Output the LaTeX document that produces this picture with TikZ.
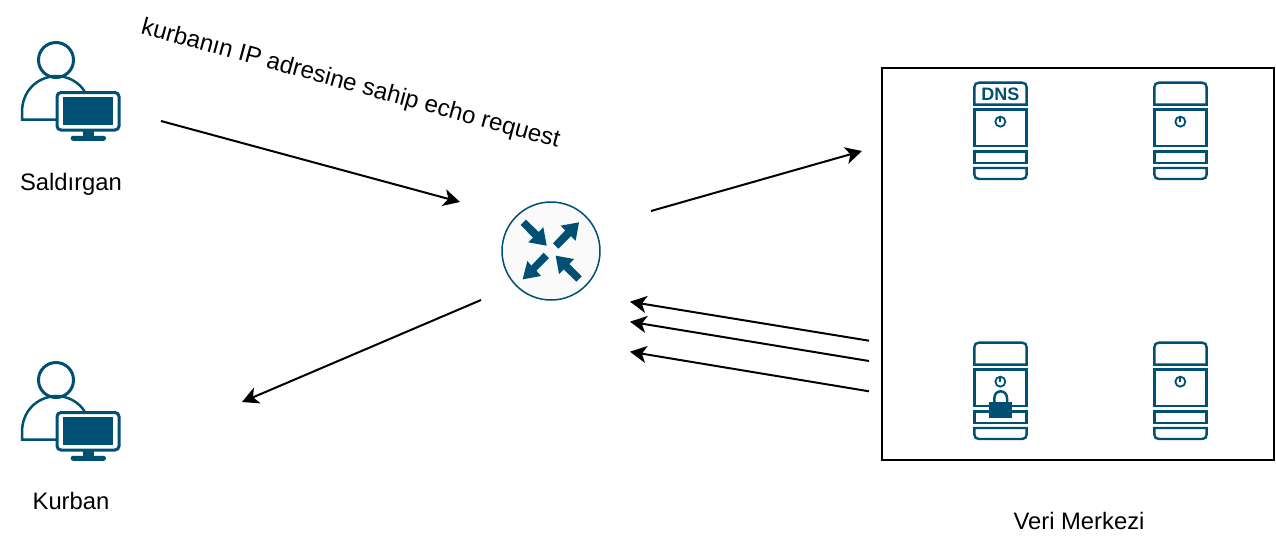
\documentclass[tikz,border=0pt]{standalone}
\usepackage{fontspec}
\setmainfont{Liberation Sans}
\usetikzlibrary{arrows.meta}
\definecolor{ciscoblue}{HTML}{005073}
\tikzset{
  x=1pt,y=-1pt,
  conn/.style={draw=black,line width=2pt,-{Stealth[length=16.5pt,width=17pt,inset=4.5pt]}},
  lbl/.style={inner sep=0pt,anchor=base,font=\fontsize{23.8}{28}\selectfont,text=black},
  ink/.style={draw=ciscoblue,line width=2.4pt,fill=none},
  pics/user/.style={code={
    \draw[draw=ciscoblue,line width=3pt] (56,60) circle (17.5);
    \draw[draw=ciscoblue,line width=2.5pt] (56,119.5) -- (22,119.5) -- (22,112)
      .. controls (22,92) and (36,77) .. (56,76) .. controls (68,76) and (79,82) .. (85,92);
    \draw[draw=ciscoblue,line width=3pt,fill=white,rounded corners=4pt] (57,92.5) rectangle (119,130);
    \fill[ciscoblue] (63.3,96.7) rectangle (112.7,125);
    \fill[ciscoblue] (82.7,131) rectangle (94,137);
    \fill[ciscoblue,rounded corners=2.4pt] (70.7,135.8) rectangle (106,140.8);
  }},
  pics/serverbox/.style={code={
    \begin{scope}[scale=1/3]
      \draw[ink] (43,104) -- (43,52) .. controls (43,43) and (48,38) .. (57,38) -- (186,38)
        .. controls (195,38) and (200,43) .. (200,52) -- (200,104) -- cycle;
      \draw[ink] (43,118) rectangle (200,228);
      \draw[ink] (43,244) rectangle (200,279);
      \draw[ink] (43,294) -- (200,294) -- (200,313) .. controls (200,322) and (195,327) .. (186,327)
        -- (57,327) .. controls (48,327) and (43,322) .. (43,313) -- cycle;
      \draw[draw=ciscoblue,line width=1.8pt] (121,155) circle (15);
      \draw[draw=ciscoblue,line width=1.8pt] (121,142) -- (121,156);
    \end{scope}
  }},
}
\begin{document}
\begin{tikzpicture}
\useasboundingbox (0,0) rectangle (1276,542);
\fill[white] (0,0) rectangle (1276,542);

% attacker and victim
\pic at (0,0) {user};
\pic at (0,320) {user};
\node[lbl] (saldirgan) at (71,190) {Saldırgan};
\node[lbl] (kurban) at (71,509.5) {Kurban};
\node[lbl,anchor=center,rotate=-15.3,font=\fontsize{24.1}{28}\selectfont] (istek) at (350.5,84.5) {kurbanın IP adresine sahip echo request};

% router
\node[circle,draw=ciscoblue,line width=1.5pt,fill=black!2,minimum size=98pt,inner sep=0pt] (router) at (551,251) {};
\begin{scope}[shift={(490,190)},scale=1/3]
  \fill[ciscoblue] (92,105) -- (108,89) -- (146,126) -- (160,112) -- (170,167) -- (115,157) -- (129,143) -- cycle;
  \fill[ciscoblue] (189,160) -- (205,176) -- (243,138) -- (257,152) -- (267,97) -- (212,107) -- (226,121) -- cycle;
  \fill[ciscoblue] (161,188) -- (177,204) -- (139,242) -- (153,258) -- (98,268) -- (112,213) -- (124,227) -- cycle;
  \fill[ciscoblue] (259,275) -- (275,259) -- (238,222) -- (252,207) -- (197,197) -- (207,252) -- (221,238) -- cycle;
\end{scope}

% data centre
\node[draw=black,line width=2pt,fill=none,minimum width=392pt,minimum height=392pt,inner sep=0pt] (merkez) at (1078,263.5) {};
\node[lbl] (veri) at (1079,529.5) {Veri Merkezi};

\pic at (960,70) {serverbox};
\pic at (1140,70) {serverbox};
\pic at (960,330) {serverbox};
\pic at (1140,330) {serverbox};
\node[inner sep=0pt,font=\fontsize{18}{20}\selectfont\bfseries,text=ciscoblue] (dns) at (1000.3,94) {DNS};

% lock
\begin{scope}[shift={(960,330)},scale=1/3]
  \draw[draw=ciscoblue,line width=2.5pt] (103,216) -- (103,205) .. controls (103,177) and (141,177) .. (141,205) -- (141,216);
  \fill[ciscoblue] (88,215) rectangle (156,264);
\end{scope}

% connector end points
\coordinate (a1) at (161,121);  \coordinate (a2) at (460,202);
\coordinate (b1) at (651,211);  \coordinate (b2) at (862,151);
\coordinate (c1) at (481,300);  \coordinate (c2) at (242,402);
\coordinate (d1) at (869,340.7);\coordinate (d2) at (630,301.7);
\coordinate (e1) at (869,361);  \coordinate (e2) at (630,321.7);
\coordinate (f1) at (869,391.3);\coordinate (f2) at (630,351.7);
\draw[conn] (a1) -- (a2);
\draw[conn] (b1) -- (b2);
\draw[conn] (c1) -- (c2);
\draw[conn] (d1) -- (d2);
\draw[conn] (e1) -- (e2);
\draw[conn] (f1) -- (f2);
\end{tikzpicture}
\end{document}
